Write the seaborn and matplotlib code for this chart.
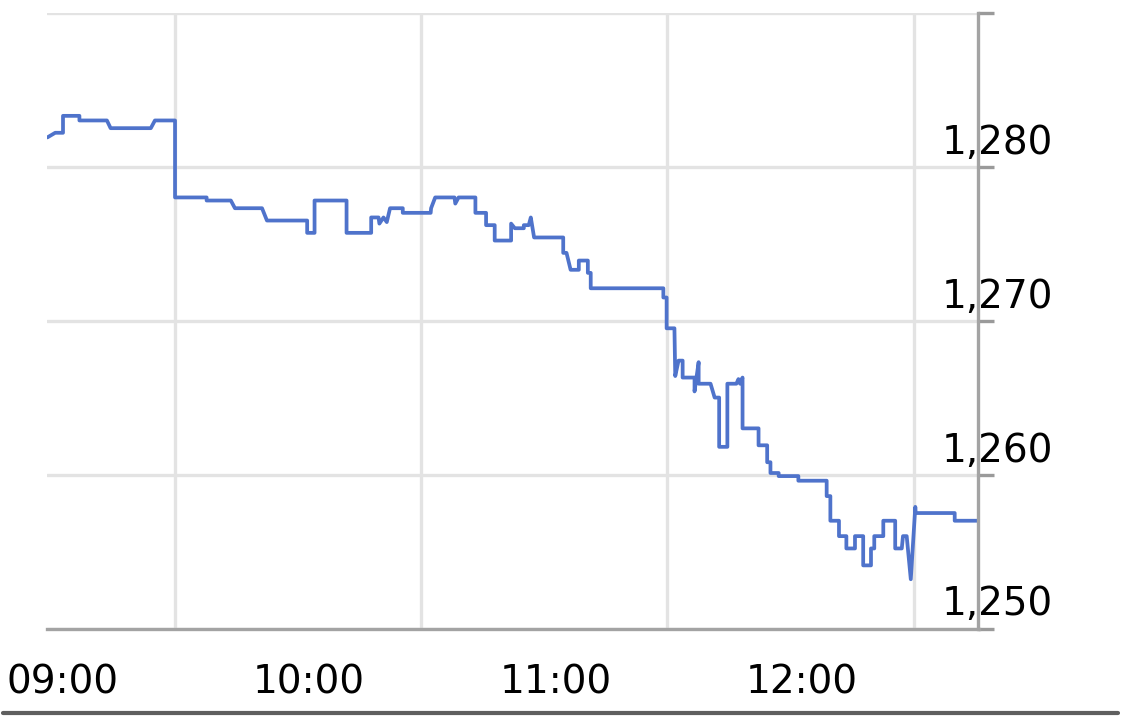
import matplotlib
matplotlib.use('Agg')
import matplotlib.pyplot as plt
import matplotlib.transforms as mtransforms
from matplotlib.lines import Line2D
import seaborn as sns

# minutes after 09:00 and price at each vertex of the intraday line
minutes = [-1.1, 0.8, 2.7, 2.7, 6.7, 6.7, 13.4, 14.3, 24.1, 25.1, 30.0, 30.0,
           37.7, 37.7, 43.6, 44.6, 51.2, 52.4, 62.2, 62.2, 64.0, 64.0, 71.8,
           71.8, 77.8, 77.8, 79.6, 79.8, 80.8, 81.6, 82.4, 85.5, 85.5, 92.3,
           92.4, 93.4, 98.1, 98.3, 99.1, 103.2, 103.2, 105.8, 105.8, 107.9,
           107.9, 111.9, 111.9, 112.8, 115.0, 115.0, 116.2, 116.7, 117.5,
           124.6, 124.6, 125.4, 126.4, 128.4, 128.4, 130.6, 130.6, 131.3,
           131.3, 149.0, 149.0, 149.8, 149.8, 151.7, 151.9, 152.7, 153.7,
           153.7, 156.6, 156.6, 157.6, 157.6, 160.5, 161.5, 162.6, 162.6,
           164.6, 164.6, 166.8, 167.3, 167.7, 168.3, 168.3, 172.2, 172.2,
           174.3, 174.3, 175.1, 175.1, 177.1, 177.1, 181.9, 181.9, 188.8,
           188.8, 189.7, 189.7, 191.8, 191.8, 193.6, 193.6, 195.7, 195.7,
           197.7, 197.7, 199.6, 199.6, 200.4, 200.4, 202.6, 202.6, 205.5,
           205.5, 207.1, 207.4, 208.3, 209.3, 210.4, 210.5, 220.0, 220.0,
           225.8]
prices = [1281.9, 1282.2, 1282.2, 1283.3, 1283.3, 1283.0, 1283.0, 1282.5,
          1282.5, 1283.0, 1283.0, 1278.0, 1278.0, 1277.8, 1277.8, 1277.3,
          1277.3, 1276.5, 1276.5, 1275.7, 1275.7, 1277.8, 1277.8, 1275.7,
          1275.7, 1276.7, 1276.7, 1276.3, 1276.7, 1276.4, 1277.3, 1277.3,
          1277.0, 1277.0, 1277.3, 1278.0, 1278.0, 1277.6, 1278.0, 1278.0,
          1277.0, 1277.0, 1276.2, 1276.2, 1275.2, 1275.2, 1276.3, 1276.0,
          1276.0, 1276.2, 1276.2, 1276.7, 1275.4, 1275.4, 1274.4, 1274.4,
          1273.3, 1273.3, 1273.9, 1273.9, 1273.1, 1273.1, 1272.1, 1272.1,
          1271.5, 1271.5, 1269.5, 1269.5, 1266.4, 1267.4, 1267.4, 1266.3,
          1266.3, 1265.4, 1267.3, 1265.9, 1265.9, 1265.0, 1265.0, 1261.8,
          1261.8, 1265.9, 1265.9, 1266.2, 1265.9, 1266.3, 1263.0, 1263.0,
          1261.9, 1261.9, 1260.8, 1260.8, 1260.1, 1260.1, 1259.9, 1259.9,
          1259.6, 1259.6, 1258.6, 1258.6, 1257.0, 1257.0, 1256.0, 1256.0,
          1255.2, 1255.2, 1256.0, 1256.0, 1254.1, 1254.1, 1255.2, 1255.2,
          1256.0, 1256.0, 1257.0, 1257.0, 1255.2, 1255.2, 1256.0, 1256.0,
          1253.2, 1257.9, 1257.5, 1257.5, 1257.0, 1257.0]

hour_ticks = [0, 60, 120, 180]
hour_labels = ['09:00', '10:00', '11:00', '12:00']
grid_ticks = [30, 90, 150, 210]
price_ticks = [1250, 1260, 1270, 1280, 1290]
price_labels = ['1,250', '1,260', '1,270', '1,280', '']

sns.set_style('white')
plt.rcParams['font.family'] = ['DejaVu Sans']

W, H = 1133, 725
fig = plt.figure(figsize=(W / 100, H / 100), dpi=100)
ax = fig.add_axes([47 / W, 1 - 628.5 / H, (978.5 - 47) / W, (628.5 - 12.7) / H])

sns.lineplot(x=minutes, y=prices, ax=ax, sort=False, estimator=None,
             color='#4f73cb', linewidth=2.7)

ax.set_xlim(-1.2, 225.8)
ax.set_ylim(1250, 1290)
ax.set_xlabel('')
ax.set_ylabel('')

# grid / axis styling
ax.set_axisbelow(True)
ax.grid(True, which='major', color='#e3e3e3', linewidth=2.4)
for side in ['left', 'top']:
    ax.spines[side].set_visible(False)
for side in ['bottom', 'right']:
    ax.spines[side].set_color('#a3a3a3')
    ax.spines[side].set_linewidth(2.4)

# x axis: gridlines at half hours, labels at the hours
ax.set_xticks(grid_ticks)
ax.set_xticklabels([''] * len(grid_ticks))
ax.set_xticks(hour_ticks, minor=True)
ax.set_xticklabels(hour_labels, minor=True)
ax.tick_params(axis='x', which='major', direction='out', length=13, width=2.4,
               color='#9a9a9a', labelbottom=False)
ax.tick_params(axis='x', which='minor', length=0, pad=25, labelsize=28,
               labelcolor='black')
shift_x = mtransforms.ScaledTranslation(0.11, 0, fig.dpi_scale_trans)
for lab in ax.get_xticklabels(minor=True):
    lab.set_transform(lab.get_transform() + shift_x)

# y axis on the right, labels sitting above their gridline
ax.yaxis.tick_right()
ax.set_yticks(price_ticks)
ax.set_yticklabels(price_labels)
ax.tick_params(axis='y', direction='out', length=11.5, width=2.4,
               color='#9a9a9a', pad=0, labelsize=28, labelcolor='black')
shift_y = mtransforms.ScaledTranslation(0.585, 0.13, fig.dpi_scale_trans)
for lab in ax.get_yticklabels():
    lab.set_ha('right')
    lab.set_va('baseline')
    lab.set_transform(lab.get_transform() + shift_y)

# dark rule along the bottom of the chart
fig.add_artist(Line2D([3 / W, 1118 / W], [1 - 713 / H, 1 - 713 / H],
                      transform=fig.transFigure, color='#5f5f5f', linewidth=3))

fig.savefig('out.png', dpi=100)
